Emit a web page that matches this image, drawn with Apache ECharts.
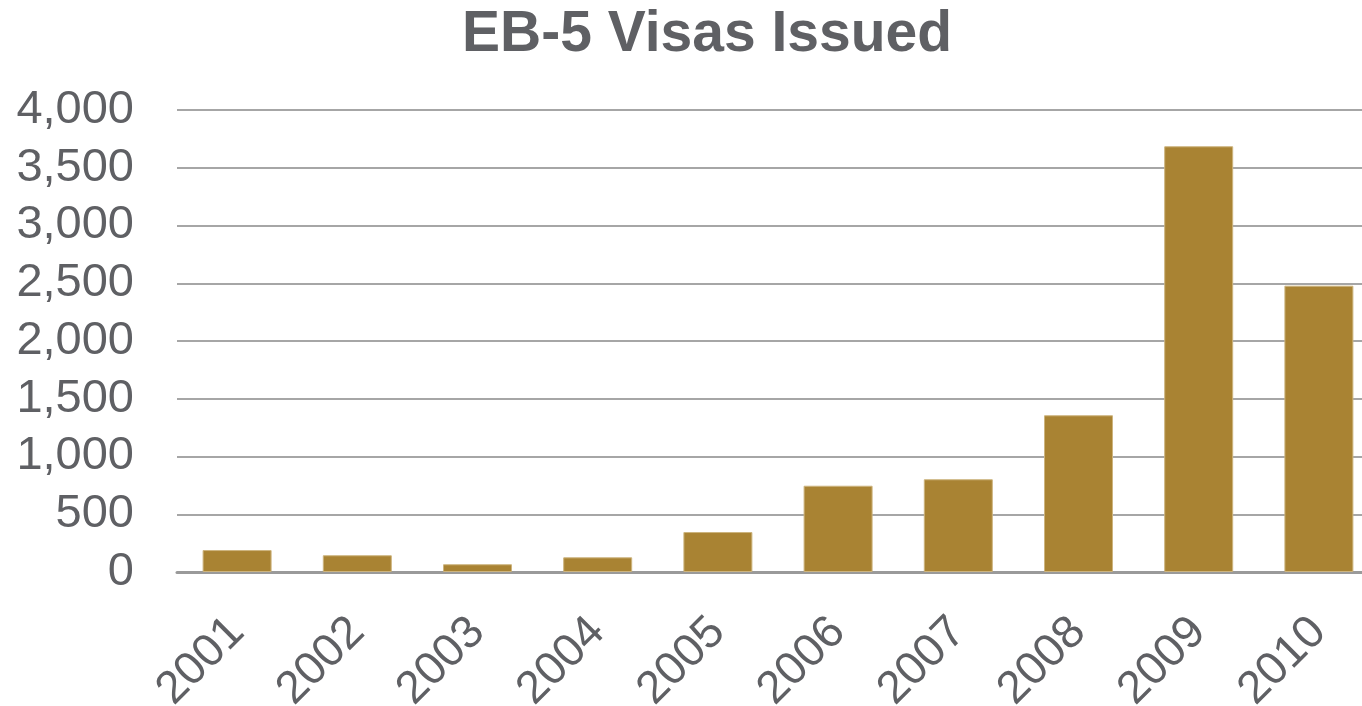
<!DOCTYPE html>
<html>
<head>
<meta charset="utf-8">
<script src="https://cdn.jsdelivr.net/npm/echarts@6/dist/echarts.min.js"></script>
<style>
  html, body { margin: 0; padding: 0; background: #fff; }
  #main { width: 1362px; height: 706px; }
</style>
</head>
<body>
<div id="main"></div>
<script>
const years = ['2001', '2002', '2003', '2004', '2005', '2006', '2007', '2008', '2009', '2010']
const visas = [190, 145, 67, 127, 346, 747, 803, 1357, 3686, 2479]
const yTicks = [0, 500, 1000, 1500, 2000, 2500, 3000, 3500, 4000]

const textColor = '#5f6064'
const chart = echarts.init(document.getElementById('main'))

chart.setOption({
  animation: false,
  title: {
    text: 'EB-5 Visas Issued',
    left: 457,
    top: 2,
    textStyle: {
      fontFamily: 'Liberation Sans',
      fontWeight: 'bold',
      fontSize: 57,
      color: textColor,
    },
  },
  grid: {
    left: 177,
    width: 1202,
    top: 110,
    bottom: 134,
    containLabel: false,
    outerBoundsMode: 'none',
  },
  xAxis: {
    type: 'category',
    data: years,
    axisTick: { show: false },
    axisLine: {
      lineStyle: { color: '#9a9a9a', width: 3 },
    },
    axisLabel: {
      rotate: 45,
      margin: 53,
      fontFamily: 'Liberation Sans',
      fontSize: 46,
      color: textColor,
    },
  },
  yAxis: {
    type: 'value',
    min: yTicks[0],
    max: yTicks[yTicks.length - 1],
    interval: 500,
    axisLine: { show: false },
    axisTick: { show: false },
    splitLine: {
      lineStyle: { color: '#a6a6a6', width: 2 },
    },
    axisLabel: {
      margin: 43,
      fontFamily: 'Liberation Sans',
      fontSize: 47,
      color: textColor,
      formatter: (v) => v.toLocaleString('en-US'),
    },
  },
  series: [
    {
      name: 'Visas',
      type: 'bar',
      data: visas,
      barCategoryGap: '42.6%',
      itemStyle: {
        color: '#a98333',
        borderColor: '#cdb47e',
        borderWidth: 1,
      },
    },
  ],
})
</script>
</body>
</html>
